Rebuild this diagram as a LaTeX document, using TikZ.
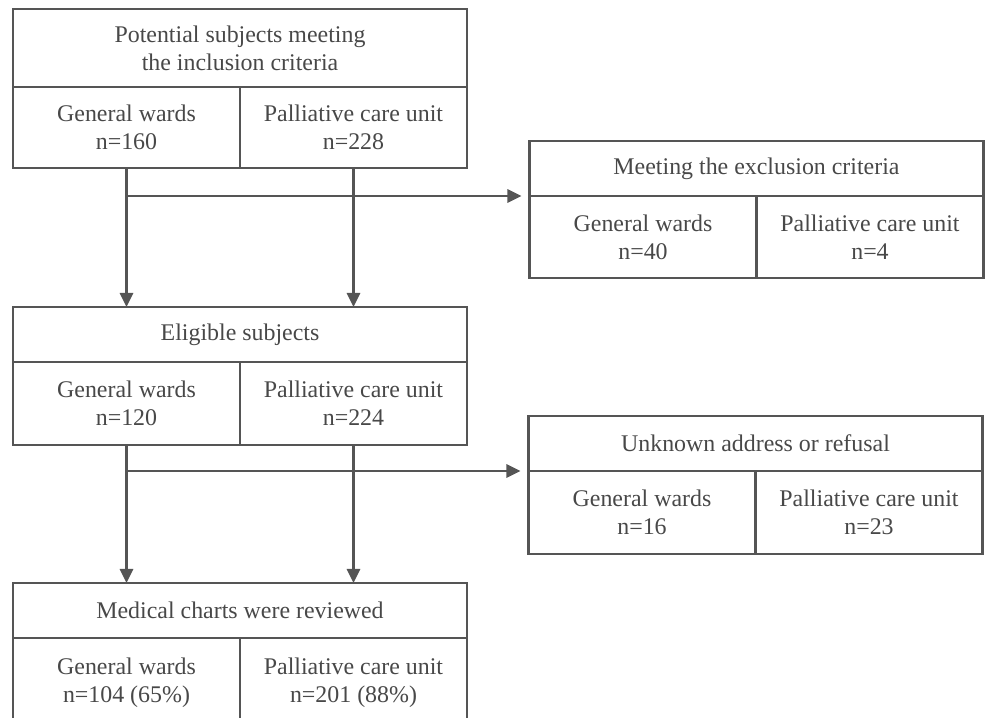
\documentclass[tikz,border=0pt]{standalone}
\usepackage{fontspec}
\setmainfont{Liberation Serif}
\usetikzlibrary{positioning,arrows.meta}
\definecolor{linegray}{HTML}{555555}
\definecolor{textgray}{HTML}{484848}
\tikzstyle{flowbox}=[draw=linegray,line width=1.2pt,text=textgray,align=center,inner sep=2pt,outer sep=0pt,font=\fontsize{13.6}{16}\selectfont]
\tikzstyle{header}=[flowbox,minimum width=9.08cm,minimum height=1.1cm]
\tikzstyle{cell}=[flowbox,minimum width=4.54cm,minimum height=1.64cm]
\tikzstyle{flow}=[draw=linegray,line width=1.4pt,-{Triangle[width=7.5pt,length=8pt]}]

\begin{document}
\begin{tikzpicture}
\useasboundingbox (0,0) rectangle (19.74,-14.36);
% inclusion
\node [header,minimum height=1.56cm] (incl) at (4.8,-0.96) {Potential subjects meeting\\the inclusion criteria};
\node [cell,minimum height=1.62cm,below right=0pt and 0pt of incl.south west] (inclGW) {General wards\\n=160};
\node [cell,minimum height=1.62cm,right=0pt of inclGW] (inclPC) {Palliative care unit\\n=228};
% exclusion
\node [header] (excl) at (15.13,-3.37) {Meeting the exclusion criteria};
\node [cell,below right=0pt and 0pt of excl.south west] (exclGW) {General wards\\n=40};
\node [cell,right=0pt of exclGW] (exclPC) {Palliative care unit\\n=4};
% eligible
\node [header] (elig) at (4.8,-6.69) {Eligible subjects};
\node [cell,minimum height=1.66cm,below right=0pt and 0pt of elig.south west] (eligGW) {General wards\\n=120};
\node [cell,minimum height=1.66cm,right=0pt of eligGW] (eligPC) {Palliative care unit\\n=224};
% unknown address / refusal
\node [header] (lost) at (15.11,-8.87) {Unknown address or refusal};
\node [cell,minimum height=1.66cm,below right=0pt and 0pt of lost.south west] (lostGW) {General wards\\n=16};
\node [cell,minimum height=1.66cm,right=0pt of lostGW] (lostPC) {Palliative care unit\\n=23};
% reviewed
\node [header] (rev) at (4.8,-12.21) {Medical charts were reviewed};
\node [cell,minimum height=1.8cm,below right=0pt and 0pt of rev.south west] (revGW) {General wards\\n=104 (65\%)};
\node [cell,minimum height=1.8cm,right=0pt of revGW] (revPC) {Palliative care unit\\n=201 (88\%)};

\draw [flow] (inclGW) -- (elig.north -| inclGW);
\draw [flow] (inclPC) -- (elig.north -| inclPC);
\draw [flow,shorten >=0.16cm] (inclGW.south |- excl.south west) -- (excl.south west);
\draw [flow] (eligGW) -- (rev.north -| eligGW);
\draw [flow] (eligPC) -- (rev.north -| eligPC);
\draw [flow,shorten >=0.16cm] (eligGW.south |- lost.south west) -- (lost.south west);
\end{tikzpicture}
\end{document}
